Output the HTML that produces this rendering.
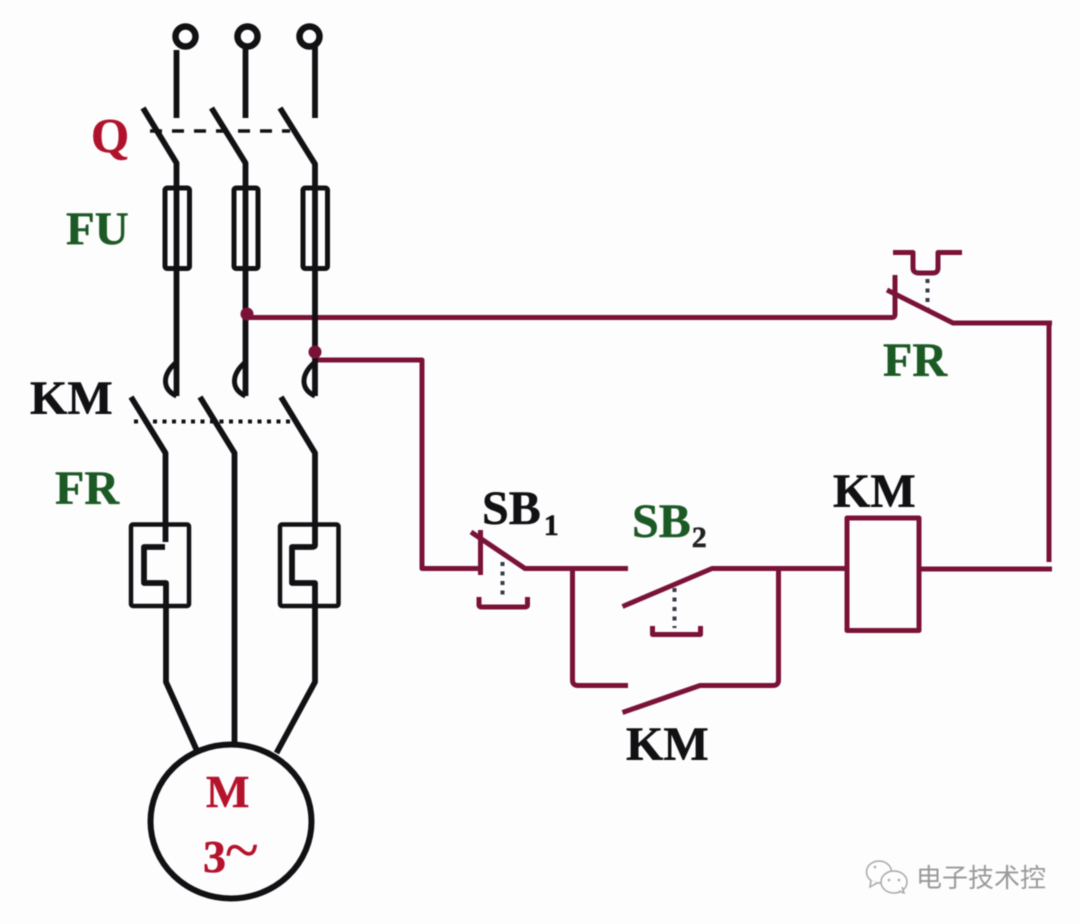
<!DOCTYPE html>
<html>
<head>
<meta charset="utf-8">
<style>
html,body{margin:0;padding:0;background:#fdfdfe;}
svg{display:block;filter:blur(0.5px);}
text{font-family:"Liberation Serif","Noto Serif CJK SC",serif;font-weight:bold;}
</style>
</head>
<body>
<svg width="1080" height="924" viewBox="0 0 1080 924" xmlns="http://www.w3.org/2000/svg">
<rect width="1080" height="924" fill="#fdfdfe"/>

<!-- red control circuit -->
<g fill="none" stroke="#7a1238" stroke-width="5" stroke-linejoin="round" stroke-linecap="butt">
  <path d="M247 317.500H892Q895 317.500 895 314V275"/>
  <path d="M887 290L953 323H1052"/>
  <path d="M1049 323V562"/>
  <path d="M893 252.500H913V268Q913 273 919 273H933Q938 273 938 268V252.500H962"/>
  <path d="M315 360H422V568.500H480.500"/>
  <path d="M480.500 530V575"/>
  <path d="M471 532L525 568.500H628"/>
  <path d="M479 597V605Q479 607 482 607H525Q527.500 607 527.500 605V597"/>
  <path d="M572.500 568.500V680Q572.500 685.500 578 685.500H628"/>
  <path d="M622.500 606.500L712 568.500H847"/>
  <path d="M778.500 568.500V680Q778.500 685.500 773 685.500H700L622.500 712.500"/>
  <path d="M652.500 626V634.500H700.500V626"/>
  <rect x="847" y="518" width="72" height="112.500"/>
  <path d="M919 569H1052"/>
</g>

<!-- dotted push rods -->
<g fill="none" stroke="#3a3a48" stroke-width="4" stroke-dasharray="4 5.500">
  <path d="M502.500 562V598"/>
  <path d="M674.500 588V628"/>
  <path d="M927.500 279V308"/>
</g>

<!-- black power circuit -->
<g fill="none" stroke="#111114" stroke-width="5.800" stroke-linejoin="round">
  <circle cx="185.500" cy="36.500" r="10" stroke-width="6.500"/>
  <circle cx="247.500" cy="36.500" r="10" stroke-width="6.500"/>
  <circle cx="309.500" cy="36.500" r="10" stroke-width="6.500"/>
  <path d="M176.500 50V118"/>
  <path d="M245.500 45V118"/>
  <path d="M315 46V118"/>

  <path d="M143 108L176.500 163V396"/>
  <path d="M211.500 108L245.500 163V396"/>
  <path d="M280 108L315 164V396"/>

  <path d="M176.500 362Q165 372 165.500 382Q166 391 176.500 396" stroke-width="5"/>
  <path d="M245.500 362Q234 372 234.500 382Q235 391 245.500 396" stroke-width="5"/>
  <path d="M315 362Q303.500 372 304 382Q304.500 391 315 396" stroke-width="5"/>

  <rect x="165" y="188" width="24.500" height="80.500" rx="2" stroke-width="5"/>
  <rect x="234" y="188" width="24" height="80.500" rx="2" stroke-width="5"/>
  <rect x="303" y="188" width="24.500" height="80.500" rx="2" stroke-width="5"/>

  <path d="M131 397L165.500 453V542"/>
  <path d="M200 397L234.500 453V743"/>
  <path d="M281 397L315 453V545Q315 547 312 547H292V583H315V682L276.500 753"/>
  <path d="M165 547H144V583H166V682L198 753"/>

  <rect x="131" y="524.500" width="58" height="81.500" rx="2" stroke-width="4.500"/>
  <rect x="280" y="524.500" width="58.500" height="81.500" rx="2" stroke-width="4.500"/>

  <ellipse cx="231" cy="821.500" rx="80.500" ry="77" stroke-width="6"/>
</g>

<!-- gang lines -->
<path d="M150 131H290" fill="none" stroke="#111114" stroke-width="3.500" stroke-dasharray="12 10"/>
<path d="M134 421.500H291" fill="none" stroke="#111114" stroke-width="4" stroke-dasharray="4 5.500"/>

<!-- junctions -->
<circle cx="247" cy="314" r="6.500" fill="#7a1238"/>
<circle cx="315" cy="352" r="6.500" fill="#7a1238"/>

<!-- labels -->
<g stroke-width="0.500">
<text x="91" y="152" font-size="49" fill="#b0122c" stroke="#b0122c">Q</text>
<text x="66" y="244" font-size="47" fill="#1c5a25" stroke="#1c5a25">FU</text>
<text x="30" y="414" font-size="48" fill="#111114" stroke="#111114">KM</text>
<text x="55" y="504" font-size="48" fill="#1c5a25" stroke="#1c5a25">FR</text>
<text x="206" y="807" font-size="46" fill="#b5122b" stroke="#b5122b">M</text>
<text x="203" y="872" font-size="46" fill="#b5122b" stroke="#b5122b">3<tspan font-size="62" font-weight="normal" dy="-1" dx="-1">~</tspan></text>
<text x="482" y="524" font-size="48" fill="#111114" stroke="#111114">SB<tspan font-size="30" dy="11" dx="3">1</tspan></text>
<text x="632" y="537" font-size="48" fill="#1c5a25" stroke="#1c5a25">SB<tspan font-size="30" dy="10" dx="1" fill="#222" stroke="#222">2</tspan></text>
<text x="626" y="760" font-size="48" fill="#111114" stroke="#111114">KM</text>
<text x="833" y="507" font-size="48" fill="#111114" stroke="#111114">KM</text>
<text x="883" y="376" font-size="48" fill="#1c5a25" stroke="#1c5a25">FR</text>
</g>

<!-- watermark -->
<g fill="#fdfdfe" stroke="#a8a8a8" stroke-width="1.500">
  <ellipse cx="879" cy="872" rx="12.500" ry="11"/>
  <path d="M871 880L870 887L877 883" />
  <ellipse cx="894" cy="882" rx="13" ry="11"/>
  <path d="M899 891L904 893L902 887"/>
</g>
<g fill="#a8a8a8">
  <circle cx="889" cy="880" r="1.300"/>
  <circle cx="899" cy="880" r="1.300"/>
  <circle cx="875" cy="867" r="1.300"/>
</g>
<text x="916" y="887" font-size="26" fill="#9a9a9a" style="font-family:'Noto Sans CJK SC','WenQuanYi Zen Hei',sans-serif;font-weight:normal">电子技术控</text>
</svg>
</body>
</html>
